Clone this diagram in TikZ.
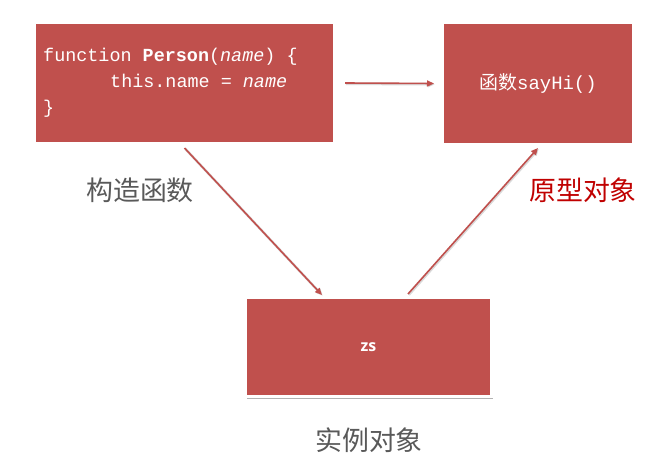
\documentclass[tikz,border=0pt]{standalone}
\usepackage{fontspec}
\setmainfont{Liberation Serif}
\setmonofont{Liberation Mono}
\setsansfont{Open Sans}
\newfontfamily\cjk{Noto Sans CJK SC}
\usetikzlibrary{arrows.meta,shadows}
\definecolor{boxred}{HTML}{C0504D}
\definecolor{lblgray}{HTML}{595959}
\definecolor{lblred}{HTML}{C00000}
\tikzset{
  redbox/.style={draw=white, line width=3bp, fill=boxred, inner sep=0pt,
    drop shadow={shadow xshift=1.5bp, shadow yshift=-2bp, opacity=0.3, fill=black}},
  conn/.style={draw=boxred, line width=1.6bp, -{Triangle[length=7bp,width=6bp]},
    preaction={draw=black, opacity=0.15, line width=2.5bp, transform canvas={xshift=0.8bp,yshift=-0.8bp}}},
  graylbl/.style={font=\cjk\fontsize{27}{30}\selectfont, text=lblgray, inner sep=0pt},
}
\begin{document}
\begin{tikzpicture}[x=1bp,y=-1bp]
\useasboundingbox (0,0) rectangle (668,460);
\fill[white] (0,0) rectangle (668,460);
\node[redbox, minimum width=300bp, minimum height=121bp] (person) at (184.5,83) {};
\node[redbox, minimum width=191bp, minimum height=122bp] (proto) at (538,83.5) {};
\node[redbox, minimum width=246bp, minimum height=99bp] (zs) at (368.5,347) {};
\node[anchor=west, text=white, inner sep=0pt, align=left,
  font=\ttfamily\fontsize{18.5}{26}\selectfont] (code) at (43,83)
  {function \textbf{Person}(\textit{name}) \{\\
   \hspace*{67bp}this.name = \textit{name}\\
   \}};
\node[text=white, inner sep=0pt] (protolbl) at (proto.center)
  {{\cjk\fontsize{19}{21}\selectfont 函数}{\ttfamily\fontsize{19}{21}\selectfont sayHi()}};
\node[text=white, inner sep=0pt, font=\sffamily\bfseries\fontsize{16}{18}\selectfont] (zslbl) at (zs.center) {zs};
\node[graylbl] (ctor) at (140,190) {构造函数};
\node[graylbl, text=lblred] (protoname) at (583,190) {原型对象};
\node[graylbl] (inst) at (369,440) {实例对象};
\draw[conn] ([xshift=9bp]person.east) -- ([xshift=-7bp]proto.west);
\draw[conn] ([yshift=-3bp]person.south) -- ([xshift=-46.5bp,yshift=1bp]zs.north);
\draw[conn] ([xshift=39.5bp,yshift=2bp]zs.north) -- ([yshift=-2bp]proto.south);
\end{tikzpicture}
\end{document}
